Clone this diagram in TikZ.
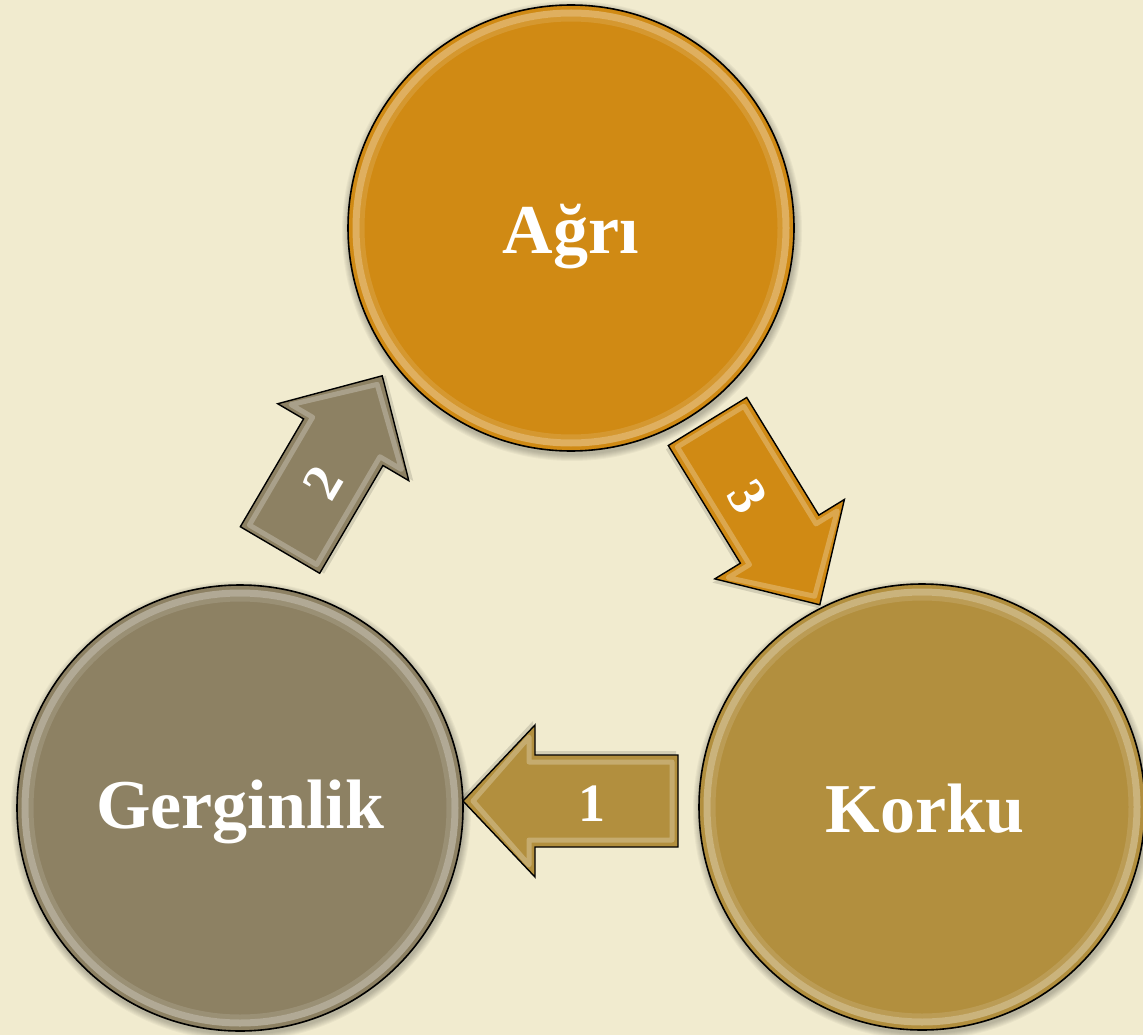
\documentclass[tikz,border=0pt]{standalone}
\usepackage{fontspec}
\setmainfont{Liberation Serif}
\definecolor{bg}{HTML}{F1EBCF}
\definecolor{cagri}{HTML}{D08A14}
\definecolor{cgerg}{HTML}{8D8163}
\definecolor{ckork}{HTML}{B28F3E}
\tikzset{
  bigcirc/.style={circle, draw=black, line width=1.6pt, minimum size=446pt, inner sep=0pt, outer sep=0pt},
  lbl/.style={text=white, font=\bfseries\fontsize{70}{76}\selectfont, anchor=base, inner sep=0pt},
  num/.style={text=white, font=\bfseries\fontsize{54}{60}\selectfont, inner sep=0pt},
  arrowbody/.style={draw=black, line width=1.4pt, line join=miter},
  bevel/.style={draw=white, opacity=0.25, line width=5pt, line join=round},
}
% #1 name, #2 tail point, #3 angle, #4 total length, #5 head length, #6 colour
\newcommand\blockarr[6]{%
  \begin{scope}[shift={(#2)}, rotate=#3]
    \coordinate (#1tail) at (0,0);
    \coordinate (#1tip) at (#4,0);
    \fill[black, opacity=0.12] ([shift={(2,3)}]#1tail) ++(0,-47) -- ++({#4-#5},0) -- ++(0,-30) -- ([shift={(2,3)}]#1tip) -- ++({-#5},77) -- ++(0,-30) -- ++({-(#4-#5)},0) -- cycle;
    \draw[arrowbody, fill=#6] (#1tail) ++(0,-46) -- ++({#4-#5},0) -- ++(0,-30) -- (#1tip) -- ++({-#5},76) -- ++(0,-30) -- ++({-(#4-#5)},0) -- cycle;
    \draw[bevel] (#1tail) ++(6,-39) -- ++({#4-#5},0) -- ++(0,-25) -- ([xshift=-10pt]#1tip) -- ++({-#5+16},64) -- ++(0,-25) -- ++({-(#4-#5)},0) -- cycle;
  \end{scope}}
\begin{document}
\begin{tikzpicture}[x=1pt,y=-1pt]
\fill[bg] (0,0) rectangle (1143,1035);
\useasboundingbox (0,0) rectangle (1143,1035);
% soft shadows
\foreach \cx/\cy in {571/228, 240/808, 922/807}{
  \foreach \k in {1,...,7}{
    \fill[black, opacity=0.035] (\cx+1,\cy+3) circle ({223pt+\k pt});
  }
}
% circles
\node[bigcirc, fill=cagri] (agri) at (571,228) {};
\node[bigcirc, fill=cgerg] (gerg) at (240,808) {};
\node[bigcirc, fill=ckork] (kork) at (922,807) {};
\foreach \c in {agri, gerg, kork}{
  \draw[white, opacity=0.32, line width=7pt] (\c.center) circle (215pt);
  \draw[white, opacity=0.12, line width=5pt] (\c.center) circle (209pt);
}
% arrows
\blockarr{a1}{678,801}{180}{215}{72}{ckork}
\blockarr{a2}{280,550}{59.6}{202}{77}{cgerg}
\blockarr{a3}{707.5,421.5}{-58.5}{215}{77}{cagri}
% labels
\node[lbl] (tagri) at (571,253) {Ağrı};
\node[lbl] (tgerg) at (240,828) {Gerginlik};
\node[lbl] (tkork) at (925,832) {Korku};
\node[num] (n1) at (592,804) {1};
\node[num, rotate=59.6] (n2) at (323,483) {2};
\node[num, rotate=-58.5] (n3) at (748,497) {3};
\end{tikzpicture}
\end{document}
